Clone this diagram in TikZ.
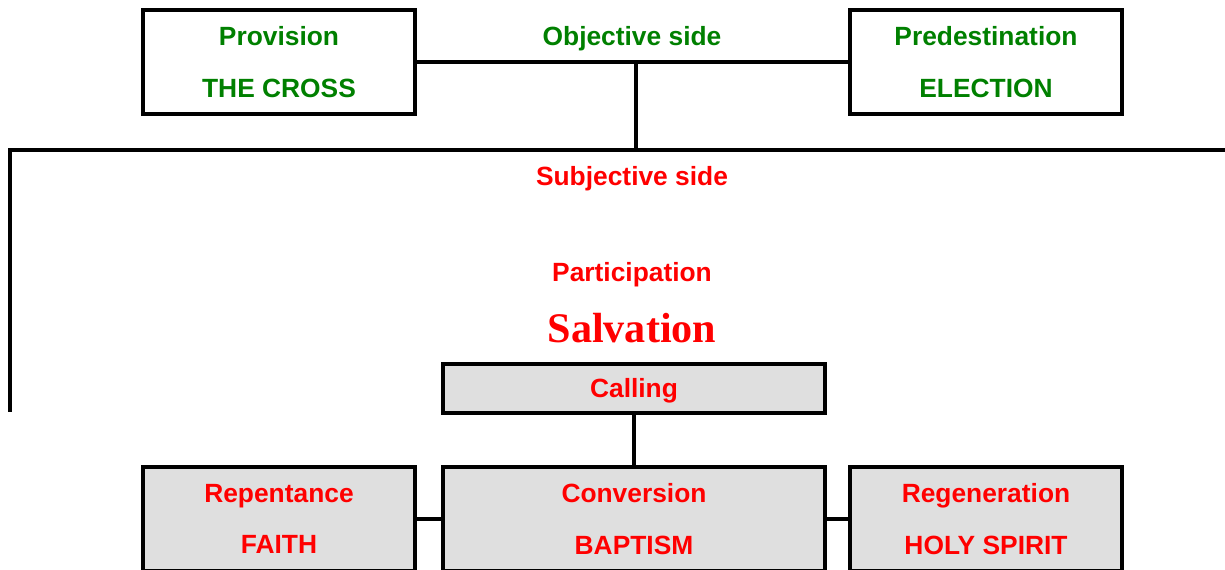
\documentclass[tikz,border=0pt]{standalone}
\usepackage{fontspec}
\setmainfont{Liberation Sans}
\newfontfamily\salvfont{Liberation Serif}
\usepackage{tikz}

\definecolor{objgreen}{RGB}{0,128,0}
\definecolor{subjred}{RGB}{255,0,0}
\definecolor{boxgrey}{RGB}{223,223,223}

\tikzset{
  plainbox/.style={draw=black, line width=2.3pt, minimum width=5.44cm, minimum height=2.08cm,
    align=center, font=\bfseries\fontsize{15}{29.5}\selectfont, inner sep=0pt},
  objbox/.style={plainbox, text=objgreen, fill=white},
  subjbox/.style={plainbox, text=subjred, fill=boxgrey},
  widebox/.style={subjbox, minimum width=7.64cm},
  conn/.style={draw=black, line width=2.3pt},
  sidelabel/.style={font=\bfseries\fontsize{15}{18}\selectfont, inner sep=0pt}
}

\begin{document}
\begin{tikzpicture}[x=0.02cm, y=-0.02cm]
  \useasboundingbox (0,0) rectangle (1225,570);

  \node[objbox] (provision) at (279,62) {Provision\\THE CROSS};
  \node[objbox] (predest) at (986,62) {Predestination\\ELECTION};
  \node[sidelabel, text=objgreen] (objside) at (632,39) {Objective side};

  \coordinate (objmid) at (636,62);
  \coordinate (leftend) at (10,412);
  \coordinate (rightend) at (1235,150);

  \draw[conn] (provision.east) -- (predest.west);
  \draw[conn] (objmid) -- (objmid |- rightend);
  \draw[conn] (leftend) -- (leftend |- rightend) -- (rightend);

  \node[sidelabel, text=subjred] (subjside) at (632,179) {Subjective side};
  \node[sidelabel, text=subjred] (particip) at (632,275) {Participation};
  \node[font=\salvfont\bfseries\fontsize{24}{28}\selectfont, text=subjred, inner sep=0pt] (salvation) at (632,328) {Salvation};

  \node[widebox, minimum height=0.98cm, text height=11pt, text depth=1pt] (calling) at (634,388.5) {Calling};
  \node[widebox] (conversion) at (634,519) {Conversion\\BAPTISM};
  \node[subjbox] (repent) at (279,519) {Repentance\\FAITH};
  \node[subjbox] (regen) at (986,519) {Regeneration\\HOLY SPIRIT};

  \draw[conn] (calling.south) -- (conversion.north);
  \draw[conn] (repent.east) -- (conversion.west);
  \draw[conn] (conversion.east) -- (regen.west);
\end{tikzpicture}
\end{document}
